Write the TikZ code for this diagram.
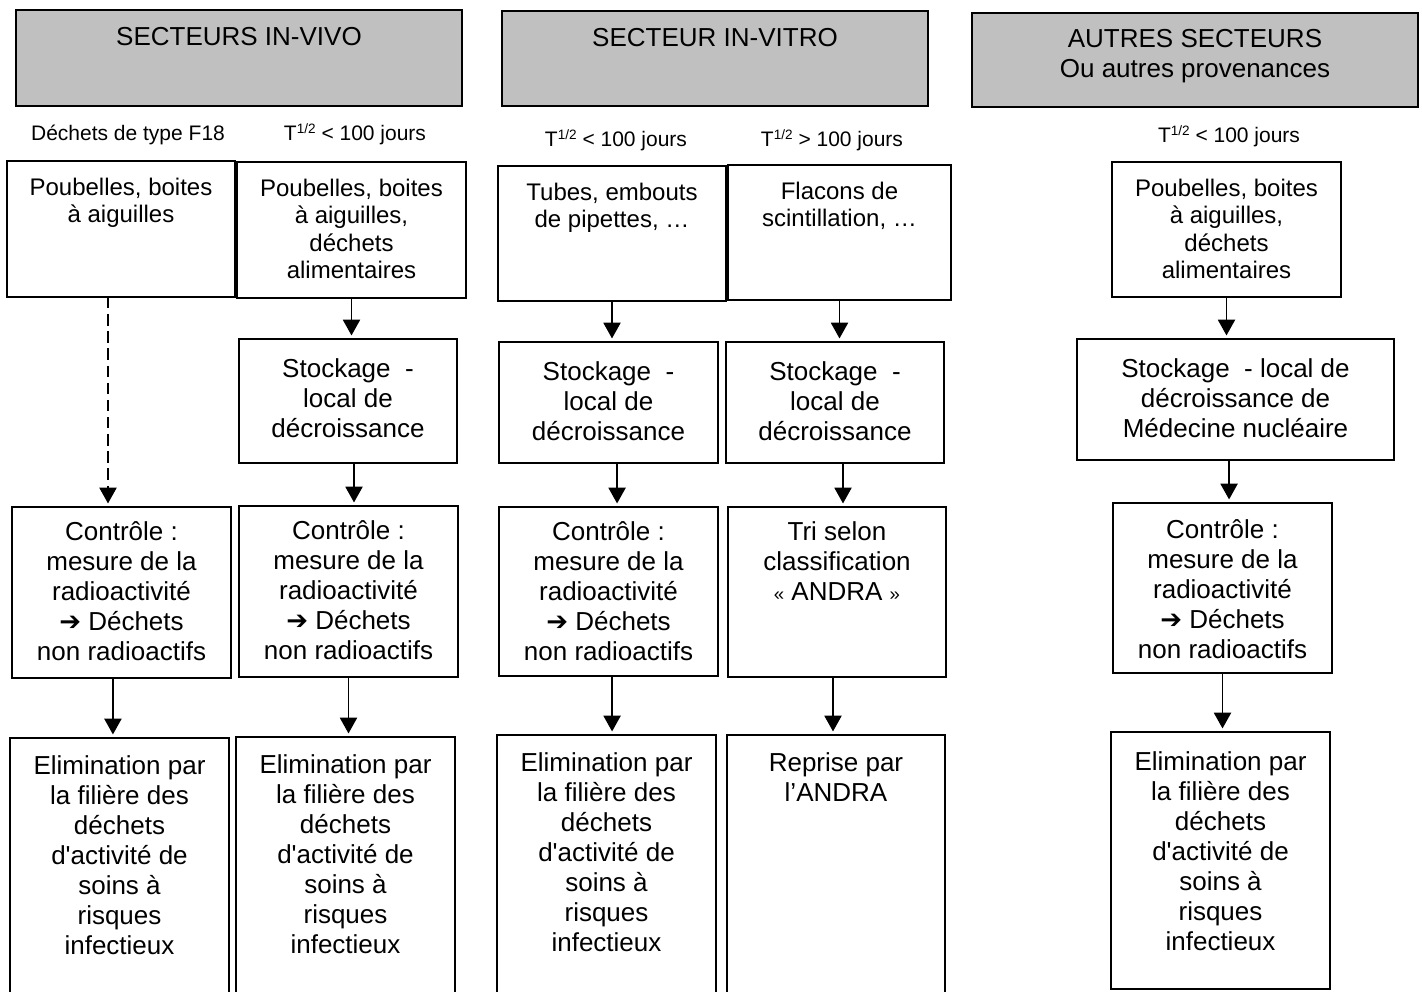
\documentclass[tikz,border=0pt]{standalone}
\usepackage{fontspec}
\setmainfont{Liberation Sans}[Ligatures=TeXOff]
\newfontfamily\symfont{DejaVu Sans Bold}
\usetikzlibrary{positioning, arrows.meta}

\definecolor{headgray}{RGB}{192,192,192}
\newlength\px
\setlength\px{0.7pt}
% box contents: [top pad in pt]{width}{height}{text}, sizes in px
\newcommand{\cell}[4][10]{\parbox[t][#3\px][t]{#2\px}{\centering\vspace*{#1pt}\strut #4}}
\newcommand{\half}{T\raisebox{4.5pt}{\fontsize{9.5}{9.5}\selectfont 1/2}}
\newcommand{\thick}{{\symfont ➔}}

\begin{document}
\begin{tikzpicture}[x=0.7pt, y=-0.7pt, >=Stealth]

\tikzset{
  box/.style={draw, line width=1.2pt, inner sep=0pt, outer sep=0pt, anchor=north west,
    font=\fontsize{18.2}{21}\selectfont},
  topbox/.style={box, font=\fontsize{16.8}{19}\selectfont},
  head/.style={box, fill=headgray},
  lbl/.style={anchor=base, inner sep=0pt, font=\fontsize{14.7}{17}\selectfont},
  arr/.style={-{Triangle[length=11pt,width=12pt]}, line width=1pt, shorten >=2.5pt},
}

\useasboundingbox (0,0) rectangle (1422,991);

% Headers
\node[head] (vivo) at (16,10) {\cell{446}{96}{SECTEURS IN-VIVO}};
\node[head] (vitro) at (502,11) {\cell{426}{95}{SECTEUR IN-VITRO}};
\node[head] (autres) at (972,13) {\cell[9.5]{446}{94}{AUTRES SECTEURS\\Ou autres provenances}};

% Half-life labels
\node[lbl] (lblF) at (128,140) {Déchets de type F18};
\node[lbl] (lblB) at (355,140) {\half{} < 100 jours};
\node[lbl] (lblC) at (616,146) {\half{} < 100 jours};
\node[lbl] (lblD) at (832,146) {\half{} > 100 jours};
\node[lbl] (lblE) at (1229,142) {\half{} < 100 jours};

% Row 1: waste
\node[topbox] (A1) at (7,161) {\cell[11]{228}{136}{Poubelles, boites\\à aiguilles}};
\node[topbox] (B1) at (237,162) {\cell[11]{229}{136}{Poubelles, boites\\à aiguilles,\\déchets\\alimentaires}};
\node[topbox] (C1) at (498,166) {\cell[11]{228}{135}{Tubes, embouts\\de pipettes, …}};
\node[topbox] (D1) at (728,165) {\cell[11]{223}{135}{Flacons de\\scintillation, …}};
\node[topbox] (E1) at (1112,162) {\cell[11]{229}{135}{Poubelles, boites\\à aiguilles,\\déchets\\alimentaires}};

% Row 2: storage
\node[box] (B2) at (239,339) {\cell[12]{218}{124}{Stockage\ \ -\\local de\\décroissance}};
\node[box] (C2) at (499,342) {\cell[12]{219}{121}{Stockage\ \ -\\local de\\décroissance}};
\node[box] (D2) at (726,342) {\cell[12]{218}{121}{Stockage\ \ -\\local de\\décroissance}};
\node[box] (E2) at (1077,339) {\cell[12]{317}{121}{Stockage\ \ - local de\\décroissance de\\Médecine nucléaire}};

% Row 3: control
\node[box] (A3) at (12,507) {\cell[9]{219}{171}{Contrôle :\\mesure de la\\radioactivité\\\thick{} Déchets\\non radioactifs}};
\node[box] (B3) at (239,506) {\cell[9]{219}{171}{Contrôle :\\mesure de la\\radioactivité\\\thick{} Déchets\\non radioactifs}};
\node[box] (C3) at (499,507) {\cell[9]{219}{169}{Contrôle :\\mesure de la\\radioactivité\\\thick{} Déchets\\non radioactifs}};
\node[box] (D3) at (728,507) {\cell[9]{218}{170}{Tri selon\\classification\\{\fontsize{13}{13}\selectfont «} ANDRA {\fontsize{13}{13}\selectfont »}}};
\node[box] (E3) at (1113,503) {\cell[10]{219}{170}{Contrôle :\\mesure de la\\radioactivité\\\thick{} Déchets\\non radioactifs}};

% Row 4: disposal
\node[box] (A4) at (10,738) {\cell[11]{219}{257}{Elimination par\\la filière des\\déchets\\d'activité de\\soins à\\risques\\infectieux}};
\node[box] (B4) at (236,737) {\cell[11]{219}{258}{Elimination par\\la filière des\\déchets\\d'activité de\\soins à\\risques\\infectieux}};
\node[box] (C4) at (497,735) {\cell[11]{219}{260}{Elimination par\\la filière des\\déchets\\d'activité de\\soins à\\risques\\infectieux}};
\node[box] (D4) at (727,735) {\cell[11]{218}{260}{Reprise par\\l’ANDRA}};
\node[box] (E4) at (1111,732) {\cell[12]{219}{257}{Elimination par\\la filière des\\déchets\\d'activité de\\soins à\\risques\\infectieux}};

% Arrows
\draw[arr, dash pattern=on 8pt off 4pt] ([xshift=-9.1pt]A1.south) -- ([xshift=-9.1pt]A1.south |- A3.north);
\draw[arr] ([xshift=-6pt]A3.south) -- ([xshift=-6pt]A3.south |- A4.north);

\draw[arr] (B1.south) -- (B1.south |- B2.north);
\draw[arr] ([xshift=4.2pt]B2.south) -- ([xshift=4.2pt]B2.south |- B3.north);
\draw[arr] (B3.south) -- (B3.south |- B4.north);

\draw[arr] (C1.south) -- (C1.south |- C2.north);
\draw[arr] ([xshift=6pt]C2.south) -- ([xshift=6pt]C2.south |- C3.north);
\draw[arr] ([xshift=2.5pt]C3.south) -- ([xshift=2.5pt]C3.south |- C4.north);

\draw[arr] (D1.south) -- (D1.south |- D2.north);
\draw[arr] ([xshift=5.6pt]D2.south) -- ([xshift=5.6pt]D2.south |- D3.north);
\draw[arr] ([xshift=-2.8pt]D3.south) -- ([xshift=-2.8pt]D3.south |- D4.north);

\draw[arr] (E1.south) -- (E1.south |- E2.north);
\draw[arr] ([xshift=-4.5pt]E2.south) -- ([xshift=-4.5pt]E2.south |- E3.north);
\draw[arr] (E3.south) -- (E3.south |- E4.north);

\end{tikzpicture}
\end{document}
